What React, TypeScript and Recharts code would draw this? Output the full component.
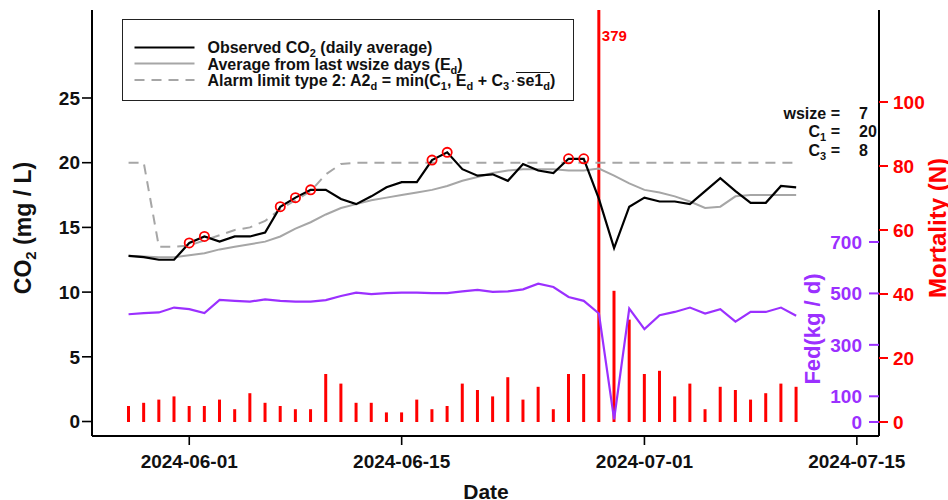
import React from 'react';
import { ComposedChart, Line, Bar, XAxis, YAxis, Legend } from 'recharts';

const FONT = '"Liberation Sans", Arial, Helvetica, sans-serif';
const PURPLE = '#9B30FF';
const RED = '#FF0000';
const GREY = '#a6a6a6';

const dates = [
  '2024-05-28', '2024-05-29', '2024-05-30', '2024-05-31',
  '2024-06-01', '2024-06-02', '2024-06-03', '2024-06-04', '2024-06-05', '2024-06-06', '2024-06-07',
  '2024-06-08', '2024-06-09', '2024-06-10', '2024-06-11', '2024-06-12', '2024-06-13', '2024-06-14',
  '2024-06-15', '2024-06-16', '2024-06-17', '2024-06-18', '2024-06-19', '2024-06-20', '2024-06-21',
  '2024-06-22', '2024-06-23', '2024-06-24', '2024-06-25', '2024-06-26', '2024-06-27', '2024-06-28',
  '2024-06-29', '2024-06-30', '2024-07-01', '2024-07-02', '2024-07-03', '2024-07-04', '2024-07-05',
  '2024-07-06', '2024-07-07', '2024-07-08', '2024-07-09', '2024-07-10', '2024-07-11',
];

const observedCO2 = [
  12.8, 12.7, 12.5, 12.5,
  13.8, 14.3, 13.9, 14.3, 14.3, 14.6, 16.6,
  17.3, 17.9, 17.9, 17.2, 16.8, 17.4, 18.1,
  18.5, 18.5, 20.2, 20.8, 19.5, 19.0, 19.1,
  18.6, 19.9, 19.4, 19.2, 20.3, 20.3, 17.2,
  13.4, 16.6, 17.3, 17.0, 17.0, 16.8, 17.8,
  18.8, 17.8, 16.9, 16.9, 18.2, 18.1,
];

const averageCO2 = [
  12.8, 12.75, 12.7, 12.7,
  12.85, 13.0, 13.3, 13.5, 13.7, 13.9, 14.3,
  14.9, 15.4, 16.0, 16.5, 16.8, 17.1, 17.3,
  17.5, 17.7, 17.9, 18.2, 18.6, 18.9, 19.2,
  19.4, 19.5, 19.5, 19.5, 19.4, 19.4, 19.55,
  19.0, 18.4, 17.9, 17.7, 17.4, 17.0, 16.5,
  16.6, 17.4, 17.5, 17.5, 17.5, 17.5,
];

const alarmLimit = [
  20, 20, 13.5, 13.5,
  13.6, 14.0, 14.4, 14.8, 15.0, 15.5, 16.4,
  17.1, 17.8, 19.1, 19.9, 20, 20, 20,
  20, 20, 20, 20, 20, 20, 20,
  20, 20, 20, 20, 20, 20, 20,
  20, 20, 20, 20, 20, 20, 20,
  20, 20, 20, 20, 20, 20,
];

const fedKg = [
  419, 423, 426, 445,
  439, 424, 475, 471, 468, 477, 471,
  468, 468, 474, 490, 503, 497, 501,
  503, 503, 501, 501, 508, 514, 506,
  508, 516, 538, 525, 486, 471, 422,
  10, 441, 361, 415, 428, 445, 422,
  439, 390, 428, 428, 445, 413,
];

const mortality = [
  5, 6, 7, 8,
  5, 5, 7, 4, 9, 6, 5,
  4, 4, 15, 12, 6, 6, 3,
  3, 7, 4, 5, 12, 10, 8,
  14, 7, 11, 4, 15, 15, 379,
  41, 32, 15, 16, 8, 12, 4,
  11, 10, 7, 9, 12, 11,
];

const xTickDates = ['2024-06-01', '2024-06-15', '2024-07-01', '2024-07-15'];
const co2Ticks = [0, 5, 10, 15, 20, 25];
const mortalityTicks = [0, 20, 40, 60, 80, 100];
const fedTicks = [0, 100, 300, 500, 700];
const paramNames = ['wsize', 'C1', 'C3'];
const paramValues = ['7', '20', '8'];

const REF = Date.UTC(2024, 5, 1);
const dayOf = (s: string) => {
  const [y, m, d] = s.split('-').map(Number);
  return (Date.UTC(y, m - 1, d) - REF) / 86400000;
};

const data = dates.map((d, i) => ({
  t: dayOf(d),
  date: d,
  obs: observedCO2[i],
  avg: averageCO2[i],
  alarm: alarmLimit[i],
  fed: fedKg[i],
  mort: mortality[i],
}));

const xTicks = xTickDates.map(dayOf);
const xLabel = (t: number) => {
  const i = xTicks.indexOf(t);
  return i >= 0 ? xTickDates[i] : '';
};

const MORT_DOMAIN: [number, number] = [-4.375, 128.75];

const tickStyle = (fill: string) => ({ fontFamily: FONT, fontSize: 19, fontWeight: 700, fill });

const AlarmDot = (p: any) => {
  const { cx, cy, payload, index } = p;
  if (payload && payload.obs > payload.alarm) {
    return <circle key={`ad${index}`} cx={cx} cy={cy} r={4.6} fill="none" stroke={RED} strokeWidth={1.8} />;
  }
  return <g key={`ad${index}`} />;
};

const BigBarLabel = (p: any) => {
  const { x, width, value, index } = p;
  if (value > MORT_DOMAIN[1]) {
    return (
      <text key={`bl${index}`} x={x + width + 1.5} y={41} fill={RED} fontFamily={FONT} fontWeight={700} fontSize={15}>
        {value}
      </text>
    );
  }
  return null;
};

const sub: React.CSSProperties = { fontSize: 11, verticalAlign: 'sub', lineHeight: 0 };

const LegendBox = () => {
  const rowText = (top: number, children: React.ReactNode) => (
    <div style={{ position: 'absolute', left: 84.5, top, height: 17, lineHeight: '17px', whiteSpace: 'nowrap', letterSpacing: 0 }}>
      {children}
    </div>
  );
  return (
    <div
      style={{
        width: 452,
        height: 82,
        boxSizing: 'border-box',
        border: '1.5px solid #222',
        background: '#fff',
        position: 'relative',
        fontFamily: FONT,
        fontWeight: 700,
        fontSize: 16,
        color: '#111',
      }}
    >
      <svg width={80} height={80} style={{ position: 'absolute', left: 0, top: 0 }}>
        <line x1={11.5} x2={71.5} y1={27.5} y2={27.5} stroke="#000" strokeWidth={2.2} />
        <line x1={11.5} x2={71.5} y1={43.5} y2={43.5} stroke={GREY} strokeWidth={2} />
        <line x1={11.5} x2={71.5} y1={60} y2={60} stroke={GREY} strokeWidth={2} strokeDasharray="10 7" />
      </svg>
      {rowText(18.7, <>Observed CO<span style={sub}>2</span> (daily average)</>)}
      {rowText(35.5, <>Average from last wsize days (E<span style={sub}>d</span>)</>)}
      {rowText(
        51.7,
        <>
          Alarm limit type 2: A2<span style={sub}>d</span> = min(C<span style={sub}>1</span>, E<span style={sub}>d</span> + C
          <span style={sub}>3</span>
          <span style={{ fontWeight: 400, margin: '0 1px' }}>·</span>
          <span style={{ borderTop: '1.5px solid #111', paddingTop: 0, display: 'inline-block', lineHeight: '15px' }}>
            se1<span style={sub}>d</span>
          </span>
          )
        </>
      )}
    </div>
  );
};

export default function App() {
  return (
    <div style={{ position: 'absolute', left: 0, top: 0, width: 948, height: 500, background: '#fff', overflow: 'hidden' }}>
      <ComposedChart width={948} height={500} data={data} margin={{ top: 10, right: 9, bottom: 34, left: 32 }}>
        <XAxis
          dataKey="t"
          type="number"
          domain={[-6.41, 45.46]}
          ticks={xTicks}
          tickFormatter={xLabel}
          height={30}
          tickSize={9}
          tickMargin={10}
          axisLine={{ stroke: '#000', strokeWidth: 2 }}
          tickLine={{ stroke: '#000', strokeWidth: 1.6 }}
          tick={tickStyle('#111')}
          interval={0}
        />
        <YAxis
          yAxisId="co2"
          orientation="left"
          type="number"
          domain={[-1.12, 31.8]}
          ticks={co2Ticks}
          width={60}
          tickSize={10}
          tickMargin={2}
          axisLine={{ stroke: '#000', strokeWidth: 2 }}
          tickLine={{ stroke: '#000', strokeWidth: 1.6 }}
          tick={tickStyle('#111')}
          interval={0}
        />
        <YAxis
          yAxisId="mort"
          orientation="right"
          type="number"
          domain={MORT_DOMAIN}
          allowDataOverflow
          ticks={mortalityTicks}
          width={60}
          tickSize={9}
          tickMargin={5}
          axisLine={{ stroke: '#000', strokeWidth: 2 }}
          tickLine={{ stroke: RED, strokeWidth: 2 }}
          tick={tickStyle(RED)}
          interval={0}
        />
        <YAxis
          yAxisId="fed"
          orientation="right"
          mirror
          type="number"
          domain={[-54.4, 1602]}
          ticks={fedTicks}
          width={60}
          tickSize={10}
          tickMargin={7}
          axisLine={false}
          tickLine={{ stroke: PURPLE, strokeWidth: 2 }}
          tick={tickStyle(PURPLE)}
          interval={0}
        />
        <Legend
          layout="vertical"
          align="center"
          verticalAlign="middle"
          content={() => <LegendBox />}
          wrapperStyle={{ left: 122, top: 19, width: 452, height: 82 }}
        />
        <Bar yAxisId="mort" dataKey="mort" fill={RED} barSize={3} isAnimationActive={false} label={BigBarLabel} legendType="none" />
        <Line yAxisId="fed" dataKey="fed" type="linear" stroke={PURPLE} strokeWidth={2.2} dot={false} activeDot={false} isAnimationActive={false} legendType="none" />
        <Line yAxisId="co2" dataKey="alarm" type="linear" stroke={GREY} strokeWidth={2} strokeDasharray="10 7" dot={false} activeDot={false} isAnimationActive={false} legendType="none" />
        <Line yAxisId="co2" dataKey="avg" type="linear" stroke={GREY} strokeWidth={2} dot={false} activeDot={false} isAnimationActive={false} legendType="none" />
        <Line yAxisId="co2" dataKey="obs" type="linear" stroke="#000" strokeWidth={2.2} dot={false} activeDot={false} isAnimationActive={false} legendType="none" />
        <Line yAxisId="co2" dataKey="obs" type="linear" stroke="none" dot={AlarmDot} activeDot={false} isAnimationActive={false} legendType="none" />
      </ComposedChart>
      <svg width={948} height={500} style={{ position: 'absolute', left: 0, top: 0, pointerEvents: 'none' }}>
        <g fontFamily={FONT} fontWeight={700} fontSize={16} fill="#111">
          {paramNames.map((n, i) => {
            const y = 119 + i * 18.4;
            const base = n.replace(/\d/g, '');
            const digit = n.replace(/\D/g, '');
            return (
              <g key={n}>
                <text x={840} y={y} textAnchor="end">
                  {base}
                  {digit ? <tspan fontSize={11} dy={4}>{digit}</tspan> : null}
                  <tspan dy={digit ? -4 : 0}>{' ='}</tspan>
                </text>
                <text x={859} y={y} textAnchor="start">{paramValues[i]}</text>
              </g>
            );
          })}
        </g>
        <text transform="translate(31,228) rotate(-90)" textAnchor="middle" fontFamily={FONT} fontWeight={700} fontSize={23} fill="#111">
          CO<tspan fontSize={15} dy={5}>2</tspan>
          <tspan dy={-5}>{' (mg / L)'}</tspan>
        </text>
        <text transform="translate(820,329) rotate(-90)" textAnchor="middle" fontFamily={FONT} fontWeight={700} fontSize={22} fill={PURPLE}>
          Fed(kg / d)
        </text>
        <text transform="translate(946,228) rotate(-90)" textAnchor="middle" fontFamily={FONT} fontWeight={700} fontSize={24} fill={RED}>
          Mortality (N)
        </text>
        <text x={486} y={499} textAnchor="middle" fontFamily={FONT} fontWeight={700} fontSize={21} fill="#111">
          Date
        </text>
      </svg>
    </div>
  );
}
